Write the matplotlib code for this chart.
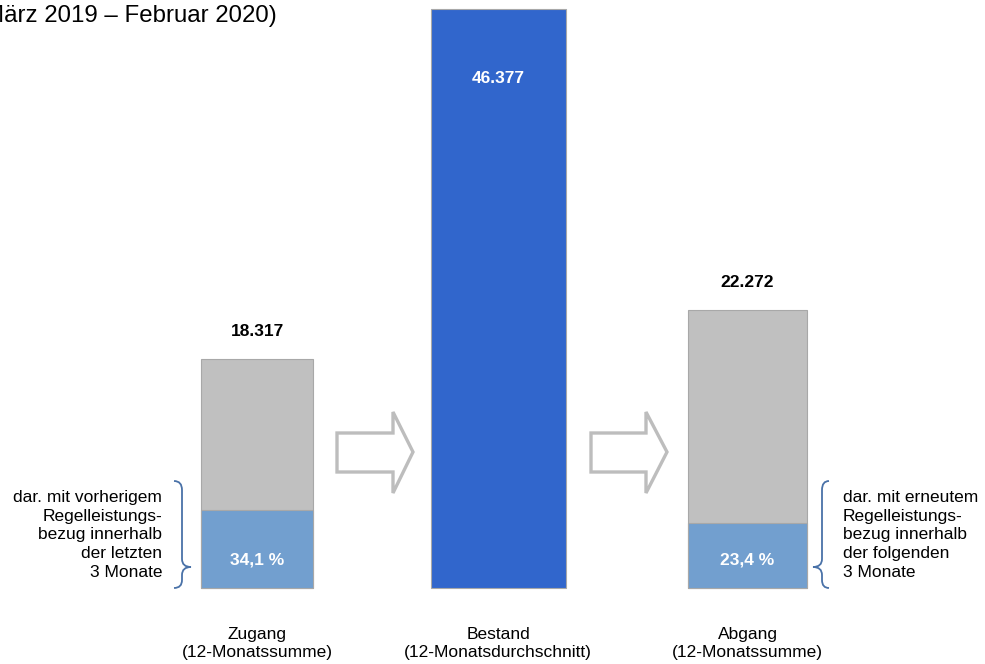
import matplotlib
matplotlib.use('Agg')
from matplotlib import pyplot as plt
from matplotlib.patches import Polygon, PathPatch
from matplotlib.path import Path

plt.rcParams['font.family'] = ['Liberation Sans', 'DejaVu Sans']

# Daten
kategorien = ['Zugang\n(12-Monatssumme)', 'Bestand\n(12-Monatsdurchschnitt)', 'Abgang\n(12-Monatssumme)']
werte = [18317, 46377, 22272]
anteil = [34.1, None, 23.4]  # Anteil mit Regelleistungsbezug in %
wert_labels = ['18.317', '46.377', '22.272']
anteil_labels = ['34,1 %', None, '23,4 %']
titel = '(März 2019 – Februar 2020)'
text_links = 'dar. mit vorherigem\nRegelleistungs-\nbezug innerhalb\nder letzten\n3 Monate'
text_rechts = 'dar. mit erneutem\nRegelleistungs-\nbezug innerhalb\nder folgenden\n3 Monate'

# Layout (Pixelpositionen im 985x664-Bild)
xpos = [257, 498, 747.5]
breiten = [112, 135, 119]
W, H = 985, 664
basis_px, top_px = 588, 9

grau = '#c0c0c0'
hellblau = '#729fcf'
dunkelblau = '#3166cc'
rand = '#a8a8a8'

fig = plt.figure(figsize=(W / 100, H / 100), dpi=100)
ax = fig.add_axes([0, 0, 1, 1])
ax.axis('off')
ax.set_xlim(0, W)
skala = werte[1] / (basis_px - top_px)
ax.set_ylim(-(H - basis_px) * skala, basis_px * skala)

for i, (x, w, v) in enumerate(zip(xpos, breiten, werte)):
    if anteil[i] is None:
        ax.bar(x, v, width=w, color=dunkelblau, edgecolor=rand, linewidth=0.8)
        ax.annotate(wert_labels[i], (x, v), xytext=(0, -50), textcoords='offset points',
                    ha='center', va='center', fontsize=12.5, fontweight='bold', color='white')
    else:
        teil = v * anteil[i] / 100
        ax.bar(x, v, width=w, color=grau, edgecolor=rand, linewidth=0.8)
        ax.bar(x, teil, width=w, color=hellblau, edgecolor=rand, linewidth=0.8)
        ax.annotate(wert_labels[i], (x, v), xytext=(0, 20), textcoords='offset points',
                    ha='center', va='center', fontsize=12.5, fontweight='bold', color='black')
        ax.annotate(anteil_labels[i], (x, 0), xytext=(0, 20), textcoords='offset points',
                    ha='center', va='center', fontsize=12.5, fontweight='bold', color='white')
    ax.annotate(kategorien[i], (x, 0), xytext=(0, -40), textcoords='offset points',
                ha='center', va='center', fontsize=12.5, color='black')

# Dekoration in Pixelkoordinaten
deko = fig.add_axes([0, 0, 1, 1])
deko.axis('off')
deko.set_xlim(0, W)
deko.set_ylim(H, 0)
deko.patch.set_alpha(0)


def pfeil(x0, xk, xs):
    pts = [(x0, 433), (xk, 433), (xk, 412), (xs, 452), (xk, 493), (xk, 472), (x0, 472)]
    deko.add_patch(Polygon(pts, closed=True, facecolor='white', edgecolor='#bdbdbd',
                           linewidth=2.4, joinstyle='miter'))


pfeil(337, 393, 413)
pfeil(591, 646, 667)


def klammer(xe, xv, xt, y0=481, ym=567, y1=588):
    verts = [(xe, y0), (xv, y0), (xv, y0 + 9),
             (xv, ym - 8), (xv, ym), (xt, ym),
             (xv, ym), (xv, ym + 8),
             (xv, y1 - 8), (xv, y1), (xe, y1)]
    codes = [Path.MOVETO, Path.CURVE3, Path.CURVE3,
             Path.LINETO, Path.CURVE3, Path.CURVE3,
             Path.CURVE3, Path.CURVE3,
             Path.LINETO, Path.CURVE3, Path.CURVE3]
    deko.add_patch(PathPatch(Path(verts, codes), facecolor='none', edgecolor='#4a72a8',
                             linewidth=1.3))


klammer(174, 182, 191)
klammer(829, 822, 813)

deko.text(162, 535, text_links, ha='right', va='center', fontsize=12.5,
          linespacing=1.3, color='black')
deko.text(843, 535, text_rechts, ha='left', va='center', fontsize=12.5,
          linespacing=1.3, color='black')
# Titel ist wie in der Vorlage links angeschnitten
deko.text(-24, 22, titel, ha='left', va='baseline', fontsize=17.3, color='black')

fig.savefig('out.png', dpi=100)
